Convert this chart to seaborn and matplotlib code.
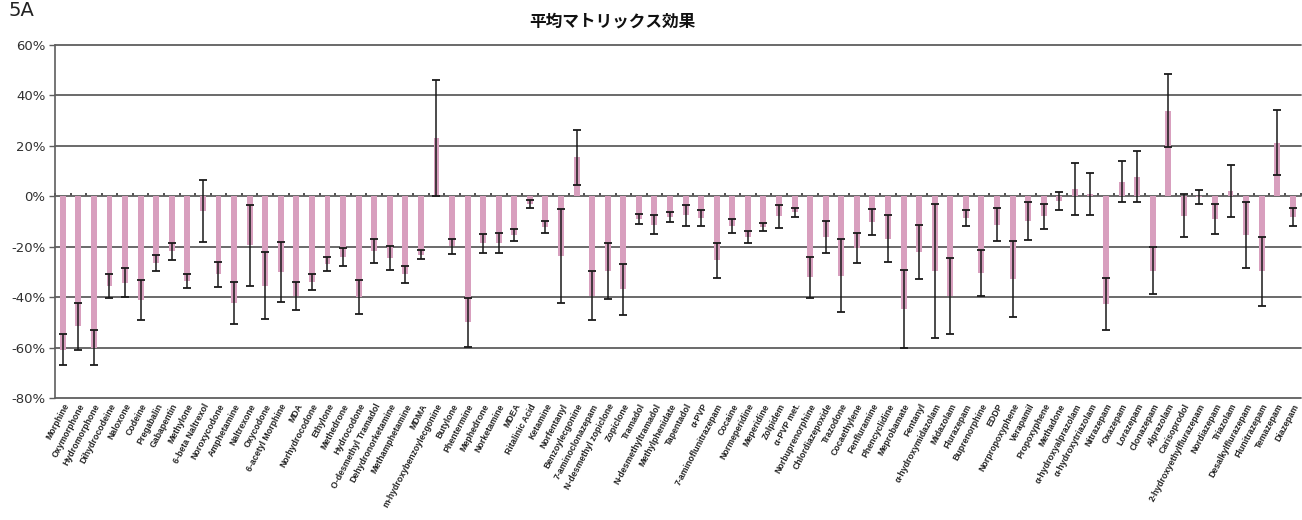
import matplotlib
matplotlib.use("Agg")
import matplotlib.pyplot as plt
import seaborn as sns
import numpy as np
import pandas as pd
from matplotlib.ticker import FuncFormatter, FixedLocator

# Analytes, in plotted order
compounds = [
    "Morphine", "Oxymorphone", "Hydromorphone", "Dihydrocodeine", "Naloxone",
    "Codeine", "Pregabalin", "Gabapentin", "Methylone", "6-beta Naltrexol",
    "Noroxycodone", "Amphetamine", "Naltrexone", "Oxycodone", "6-acetyl Morphine",
    "MDA", "Norhydrocodone", "Ethylone", "Methedrone", "Hydrocodone",
    "O-desmethyl Tramadol", "Dehydronorketamine", "Methamphetamine", "MDMA",
    "m-hydroxybenzoylecgonine", "Butylone", "Phentermine", "Mephedrone",
    "Norketamine", "MDEA", "Ritalinic Acid", "Ketamine", "Norfentanyl",
    "Benzoylecgonine", "7-aminoclonazepam", "N-desmethyl zopiclone", "Zopiclone",
    "Tramadol", "N-desmethyltramadol", "Methylphenidate", "Tapentadol", "α-PVP",
    "7-aminoflunitrazepam", "Cocaine", "Normeperidine", "Meperidine", "Zolpidem",
    "α-PVP met.", "Norbuprenorphine", "Chlordiazepoxide", "Trazodone",
    "Cocaethylene", "Fenfluramine", "Phencyclidine", "Meprobamate", "Fentanyl",
    "α-hydroxymidazolam", "Midazolam", "Flurazepam", "Buprenorphine", "EDDP",
    "Norpropoxyphene", "Verapamil", "Propoxyphene", "Methadone",
    "α-hydroxyalprazolam", "α-hydroxytriazolam", "Nitrazepam", "Oxazepam",
    "Lorazepam", "Clonazepam", "Alprazolam", "Carisoprodol",
    "2-hydroxyethylflurazepam", "Nordiazepam", "Triazolam", "Desalkylflurazepam",
    "Flunitrazepam", "Temazepam", "Diazepam",
]

# Mean matrix effect (%)
mean_effect = [
    -60.8, -51.6, -60.1, -35.6, -34.2, -41.1, -26.4, -21.8, -33.6, -6.0,
    -31.0, -42.3, -19.5, -35.5, -30.2, -39.5, -34.0, -26.8, -24.2, -39.9,
    -21.6, -24.5, -31.0, -23.1, 23.1, -19.9, -50.0, -18.7, -18.5, -15.4,
    -3.1, -12.2, -23.8, 15.4, -39.5, -29.5, -36.9, -8.9, -11.3, -8.2,
    -7.6, -8.5, -25.4, -11.8, -16.1, -12.2, -8.0, -6.4, -32.2, -16.1,
    -31.5, -20.5, -10.2, -16.9, -44.7, -22.2, -29.5, -39.6, -8.6, -30.6,
    -11.2, -32.7, -9.8, -8.0, -2.0, 2.8, 0.9, -42.7, 5.8, 7.7,
    -29.5, 34.0, -7.7, -0.3, -9.0, 2.1, -15.4, -29.8, 21.3, -8.1,
]

# Standard deviation of the matrix effect (%)
sd_effect = [
    6.1, 9.3, 6.9, 4.9, 5.6, 8.0, 3.3, 3.3, 2.9, 12.3,
    5.1, 8.4, 15.9, 13.3, 11.9, 5.7, 3.3, 2.9, 3.6, 6.8,
    4.8, 4.6, 3.5, 1.9, 23.1, 2.9, 9.8, 3.6, 4.0, 2.4,
    1.5, 2.3, 18.6, 10.8, 9.7, 11.1, 10.0, 2.0, 3.7, 2.1,
    4.0, 3.2, 7.0, 2.7, 2.3, 1.5, 4.4, 1.8, 8.3, 6.2,
    14.5, 6.0, 5.0, 9.3, 15.4, 10.8, 26.6, 15.1, 3.3, 9.1,
    6.5, 15.0, 7.5, 5.0, 3.6, 10.4, 8.4, 10.4, 8.2, 10.1,
    9.4, 14.5, 8.5, 2.7, 6.1, 10.3, 13.1, 13.8, 12.8, 3.5,
]

y_ticks = [60, 40, 20, 0, -20, -40, -60, -80]

df = pd.DataFrame({"compound": compounds, "mean": mean_effect, "sd": sd_effect})

sns.set_style("white")
plt.rcParams["font.family"] = ["DejaVu Sans", "Noto Sans CJK JP"]

W, H = 1302, 520
fig = plt.figure(figsize=(W / 100, H / 100), dpi=100)
ax = fig.add_axes([55 / W, 1 - 398 / H, 1245.6 / W, (398 - 45) / H])

bar_color = "#d89fbe"
grid_color = "#5e5e5e"

sns.barplot(data=df, x="compound", y="mean", color=bar_color, width=0.38,
            errorbar=None, saturation=1, ax=ax, zorder=2)
for p in ax.patches:
    p.set_edgecolor("none")

ax.errorbar(np.arange(len(df)), df["mean"], yerr=df["sd"], fmt="none",
            ecolor="#1a1a1a", elinewidth=1.1, capsize=2.9, capthick=1.3, zorder=3)

ax.set_xlim(-0.5, len(df) - 0.5)
ax.set_ylim(-80, 60)
ax.set_yticks(y_ticks)
ax.yaxis.set_major_formatter(FuncFormatter(lambda v, _: f"{v:.0f}%"))
ax.tick_params(axis="y", which="major", left=True, length=4, width=1.0,
               color=grid_color, labelsize=9.5, labelcolor="#303030", pad=3)

ax.set_xlabel("")
ax.set_ylabel("")
ax.set_xticks(np.arange(len(df)))
ax.set_xticklabels(df["compound"], rotation=62, ha="right", rotation_mode="anchor",
                   fontsize=6.3, fontweight="bold", color="#222222",
                   family=["Liberation Sans", "DejaVu Sans"])
ax.tick_params(axis="x", which="major", bottom=False, length=0, pad=3)

# Horizontal gridlines at every 20 %
ax.yaxis.grid(True, color=grid_color, linewidth=1.3, zorder=1)
ax.set_axisbelow(True)
for gl in ax.get_ygridlines():
    gl.set_clip_on(False)

for side in ["top", "right", "bottom"]:
    ax.spines[side].set_visible(False)
ax.spines["left"].set_color(grid_color)
ax.spines["left"].set_linewidth(1.2)

# Category boundary tick marks on the zero line
zero_frac = (0 - (-80)) / (60 - (-80))
sec = ax.secondary_xaxis(zero_frac)
sec.xaxis.set_major_locator(FixedLocator(np.arange(-0.5, len(df), 1.0)))
sec.tick_params(axis="x", direction="out", length=2.5, width=1.2,
                color="#333333", labelbottom=False, labeltop=False)
sec.spines["bottom"].set_visible(False)
sec.spines["top"].set_visible(False)

fig.text(612 / W, 1 - 21 / H, "平均マトリックス効果", ha="center", va="center",
         fontsize=12, fontweight="bold", family=["Noto Sans CJK JP", "DejaVu Sans"],
         color="#111111")
fig.text(8 / W, 1 - 1 / H, "5A", ha="left", va="top", fontsize=14,
         color="#222222")

fig.savefig("out.png", dpi=100)
